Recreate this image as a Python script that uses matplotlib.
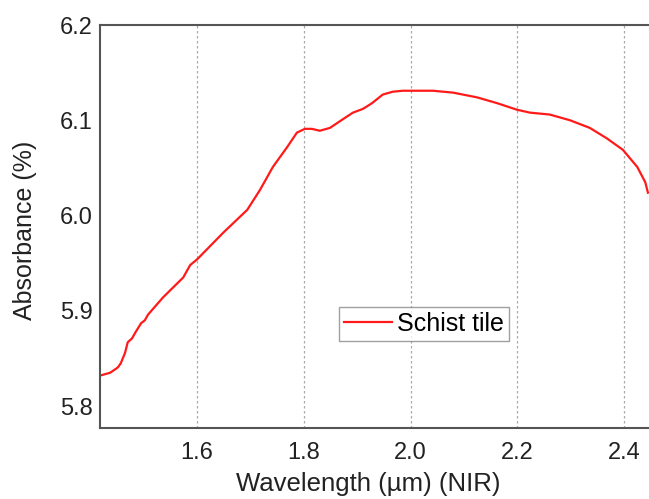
import matplotlib
matplotlib.use("Agg")
import matplotlib.pyplot as plt

# NIR absorbance spectrum of a schist tile
wavelength = [1.418, 1.437, 1.450, 1.452, 1.457, 1.465, 1.470, 1.478, 1.484,
              1.495, 1.502, 1.508, 1.536, 1.574, 1.587, 1.600, 1.649, 1.694,
              1.718, 1.742, 1.769, 1.787, 1.802, 1.815, 1.830, 1.849, 1.873,
              1.892, 1.911, 1.928, 1.948, 1.967, 1.986, 1.999, 2.042, 2.080,
              2.125, 2.162, 2.200, 2.224, 2.261, 2.299, 2.336, 2.368, 2.398,
              2.425, 2.440, 2.445]
absorbance = [5.832, 5.835, 5.840, 5.841, 5.845, 5.856, 5.867, 5.871, 5.877,
              5.887, 5.890, 5.896, 5.914, 5.935, 5.948, 5.954, 5.982, 6.006,
              6.027, 6.051, 6.072, 6.087, 6.091, 6.091, 6.089, 6.092, 6.101,
              6.108, 6.112, 6.118, 6.127, 6.130, 6.131, 6.131, 6.131, 6.129,
              6.124, 6.118, 6.111, 6.108, 6.106, 6.100, 6.092, 6.081, 6.069,
              6.051, 6.035, 6.024]
series_label = "Schist tile"
x_ticks = [1.6, 1.8, 2.0, 2.2, 2.4]
y_ticks = [5.8, 5.9, 6.0, 6.1, 6.2]

plt.rcParams['font.family'] = ['Liberation Sans', 'DejaVu Sans']

W, H = 649, 499
fig = plt.figure(figsize=(W / 100, H / 100), dpi=100)
ax = fig.add_axes([100 / W, (H - 428) / H, 1 - 100 / W, (428 - 25) / H])

ax.plot(wavelength, absorbance, color='#ff1a1a', lw=1.6, label=series_label)

ax.set_xlim(1.418, 2.447)
ax.set_ylim(5.777, 6.2)
ax.set_xticks(x_ticks)
ax.set_xticklabels([f"{t:.1f}" for t in x_ticks])
ax.set_yticks(y_ticks)
ax.set_yticklabels([f"{t:.1f}" for t in y_ticks])
ax.tick_params(length=0, labelsize=17, colors='#222222')
ax.tick_params(axis='x', pad=10)
ax.tick_params(axis='y', pad=5)

ax.grid(axis='x', color='#aaaaaa', linestyle=(0, (2, 2)), lw=0.9)
ax.set_axisbelow(True)

for side in ('top', 'left', 'bottom'):
    ax.spines[side].set_color('#555555')
    ax.spines[side].set_linewidth(1.5)
ax.spines['right'].set_visible(False)

ax.set_xlabel("Wavelength (µm) (NIR)", fontsize=18.5, color='#222222')
ax.xaxis.set_label_coords(0.488, -0.11)
ax.set_ylabel("Absorbance (%)", fontsize=18, color='#222222')
ax.yaxis.set_label_coords(-0.115, 0.49)

leg = ax.legend(loc='center', bbox_to_anchor=(0.59, 0.258), fontsize=18,
                frameon=True, fancybox=False, handlelength=1.9,
                handletextpad=0.2, borderpad=0.2, borderaxespad=0)
leg.get_frame().set_edgecolor('#888888')
leg.get_frame().set_linewidth(1.0)

fig.savefig("out.png", dpi=100)
